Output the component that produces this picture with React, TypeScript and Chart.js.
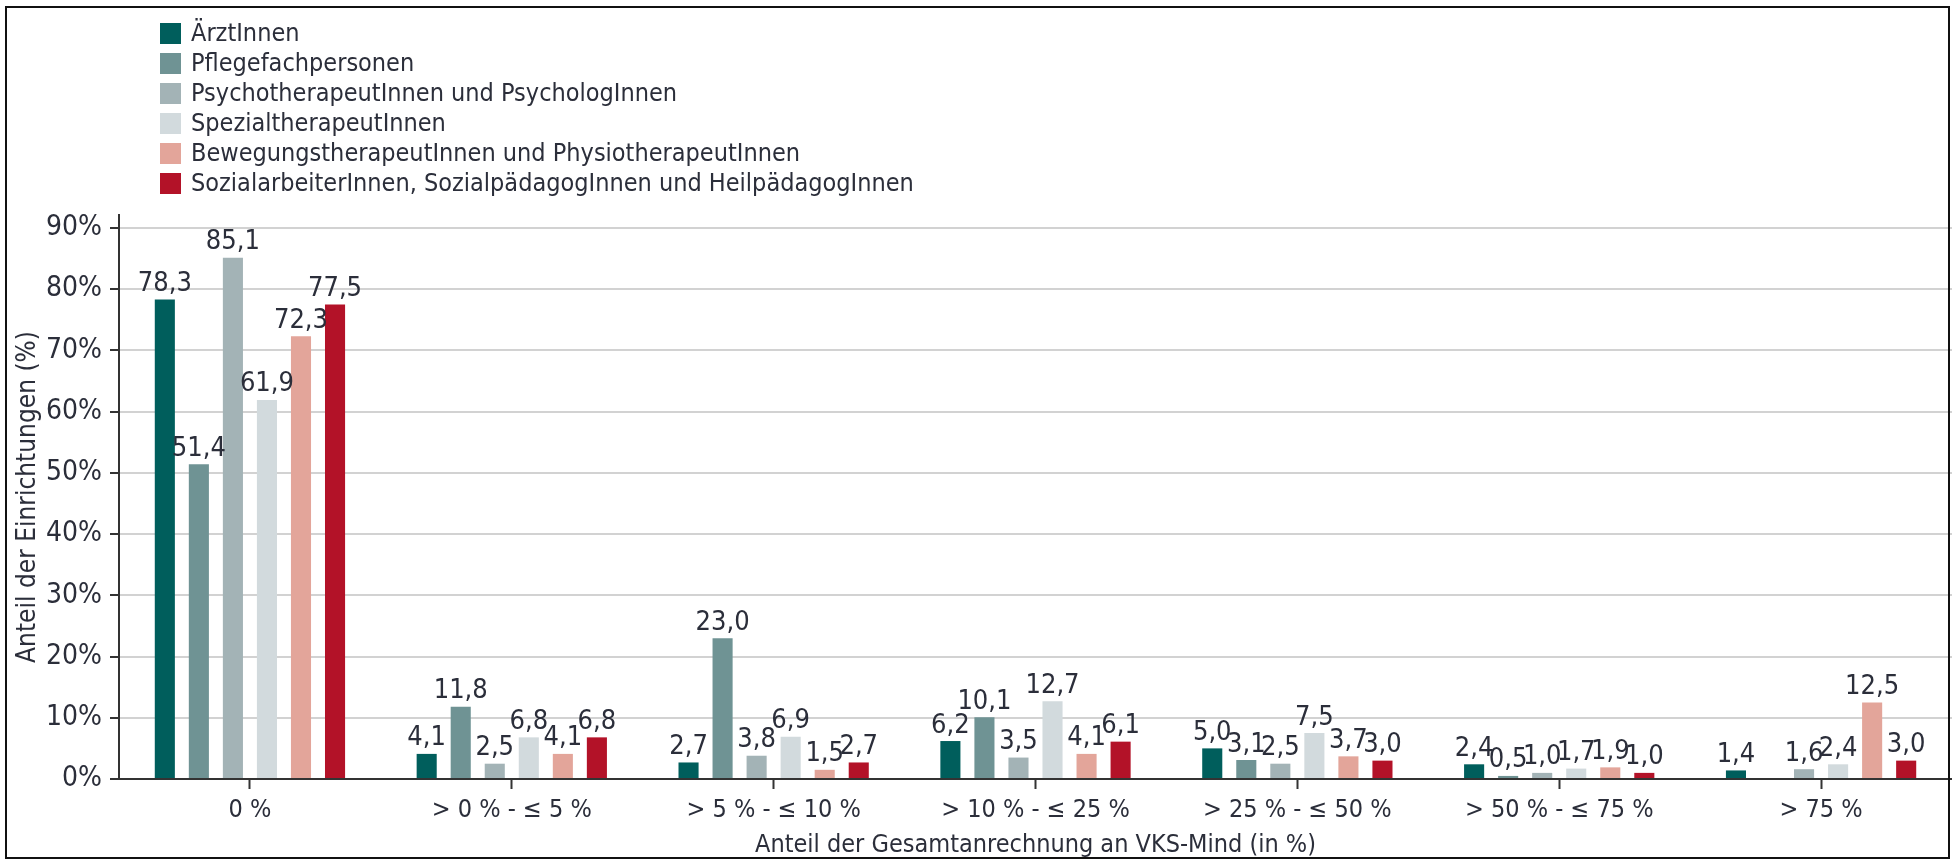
import { useEffect, useRef } from "react";
import { Chart, registerables } from "chart.js";

Chart.register(...registerables);

const categories = [
  "0 %",
  "> 0 % - ≤ 5 %",
  "> 5 % - ≤ 10 %",
  "> 10 % - ≤ 25 %",
  "> 25 % - ≤ 50 %",
  "> 50 % - ≤ 75 %",
  "> 75 %",
];

const seriesNames = [
  "ÄrztInnen",
  "Pflegefachpersonen",
  "PsychotherapeutInnen und PsychologInnen",
  "SpezialtherapeutInnen",
  "BewegungstherapeutInnen und PhysiotherapeutInnen",
  "SozialarbeiterInnen, SozialpädagogInnen und HeilpädagogInnen",
];

const aerzte = [78.3, 4.1, 2.7, 6.2, 5.0, 2.4, 1.4];
const pflege = [51.4, 11.8, 23.0, 10.1, 3.1, 0.5, null];
const psycho = [85.1, 2.5, 3.8, 3.5, 2.5, 1.0, 1.6];
const spezial = [61.9, 6.8, 6.9, 12.7, 7.5, 1.7, 2.4];
const bewegung = [72.3, 4.1, 1.5, 4.1, 3.7, 1.9, 12.5];
const sozial = [77.5, 6.8, 2.7, 6.1, 3.0, 1.0, 3.0];

const seriesValues = [aerzte, pflege, psycho, spezial, bewegung, sozial];
const seriesColors = ["#005e5c", "#6f9394", "#a3b3b6", "#d2dadd", "#e3a59a", "#b31228"];

const yMax = 92.1;
const yStep = 10;

const FONT = "'DejaVu Sans Condensed', 'Liberation Sans Narrow', sans-serif";
const TEXT = "#2b2e3a";

const valueLabels = {
  id: "valueLabels",
  afterDatasetsDraw(chart: any) {
    const ctx = chart.ctx;
    ctx.save();
    ctx.font = `27px ${FONT}`;
    ctx.fillStyle = TEXT;
    ctx.textAlign = "center";
    ctx.textBaseline = "bottom";
    chart.data.datasets.forEach((ds: any, di: number) => {
      const meta = chart.getDatasetMeta(di);
      meta.data.forEach((bar: any, i: number) => {
        const v = ds.data[i];
        if (v === null || v === undefined) return;
        ctx.fillText(v.toFixed(1).replace(".", ","), bar.x, bar.y - 2);
      });
    });
    ctx.restore();
  },
};

const sideLegend = {
  id: "sideLegend",
  afterDraw(chart: any) {
    const ctx = chart.ctx;
    ctx.save();
    ctx.font = `25px ${FONT}`;
    ctx.textBaseline = "middle";
    ctx.textAlign = "left";
    chart.data.datasets.forEach((ds: any, i: number) => {
      const y = 23 + i * 30;
      ctx.fillStyle = ds.backgroundColor;
      ctx.fillRect(160, y, 21, 21);
      ctx.fillStyle = TEXT;
      ctx.fillText(ds.label, 191, y + 11);
    });
    ctx.restore();
  },
};

const frame = {
  id: "frame",
  afterDraw(chart: any) {
    const ctx = chart.ctx;
    ctx.save();
    ctx.strokeStyle = "#111";
    ctx.lineWidth = 2;
    ctx.strokeRect(6, 7, 1943, 851);
    ctx.restore();
  },
};

export default function App() {
  const ref = useRef<HTMLCanvasElement>(null);

  useEffect(() => {
    if (!ref.current) return;
    const chart = new Chart(ref.current, {
      type: "bar",
      data: {
        labels: categories,
        datasets: seriesNames.map((name, i) => ({
          label: name,
          data: seriesValues[i],
          backgroundColor: seriesColors[i],
          categoryPercentage: 0.78,
          barPercentage: 0.59,
        })),
      },
      options: {
        animation: false,
        responsive: false,
        devicePixelRatio: 1,
        layout: { padding: { top: 215, left: 10, right: -5, bottom: 0 } },
        plugins: {
          legend: { display: false },
          tooltip: { enabled: false },
        },
        scales: {
          x: {
            type: "category",
            offset: true,
            afterFit: (scale: any) => {
              scale.height = 81;
            },
            grid: {
              display: true,
              drawOnChartArea: false,
              drawTicks: true,
              tickLength: 10,
              tickColor: "#333",
              tickWidth: 2,
              offset: false,
            },
            border: { display: true, color: "#333", width: 2 },
            ticks: {
              font: { family: FONT, size: 25 },
              color: TEXT,
              padding: 6,
              maxRotation: 0,
              autoSkip: false,
            },
            title: {
              display: true,
              text: "Anteil der Gesamtanrechnung an VKS-Mind (in %)",
              font: { family: FONT, size: 25, lineHeight: 1 },
              color: TEXT,
              padding: { top: 0, bottom: 2 },
            },
          },
          y: {
            min: 0,
            max: yMax,
            afterFit: (scale: any) => {
              scale.width = 109;
            },
            ticks: {
              stepSize: yStep,
              includeBounds: false,
              font: { family: FONT, size: 28 },
              color: TEXT,
              padding: 8,
              callback: (v: any) => `${v}%`,
            },
            grid: {
              color: "#d2d2d2",
              lineWidth: 2,
              drawTicks: true,
              tickLength: 9,
              tickColor: "#333",
              tickWidth: 2,
            },
            border: { display: true, color: "#333", width: 2 },
            title: {
              display: true,
              text: "Anteil der Einrichtungen (%)",
              font: { family: FONT, size: 26, lineHeight: 1 },
              color: TEXT,
              padding: { top: 5, bottom: 0 },
            },
          },
        },
      },
      plugins: [valueLabels, sideLegend, frame],
    });
    return () => chart.destroy();
  }, []);

  return (
    <div style={{ position: "fixed", left: 0, top: 0, width: 1952, height: 860, background: "#fff" }}>
      <canvas ref={ref} width={1952} height={860} style={{ display: "block" }} />
    </div>
  );
}
